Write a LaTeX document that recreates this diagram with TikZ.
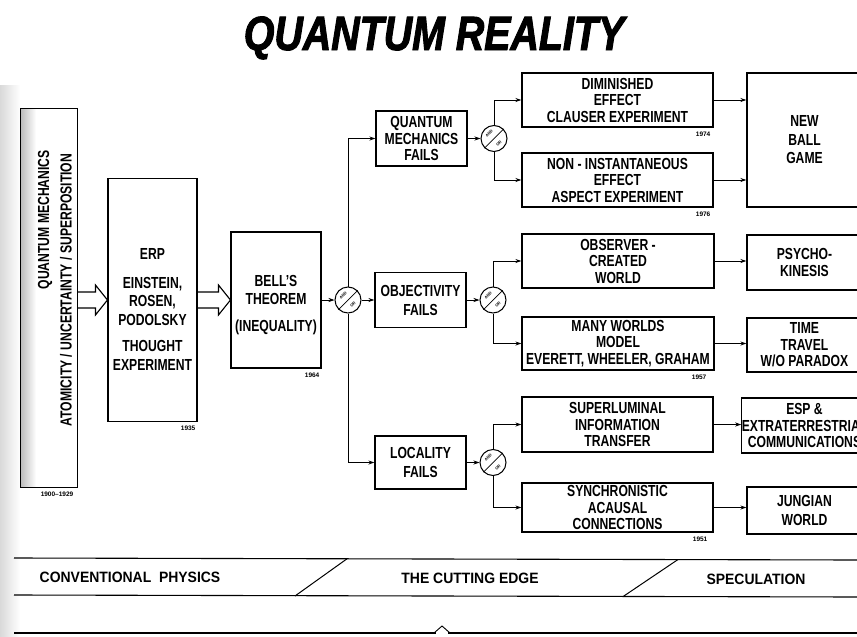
\documentclass[tikz,border=0pt]{standalone}
\usepackage{fontspec}
\setmainfont{Liberation Sans}
\newfontfamily\boxfont{Liberation Sans}[FakeStretch=0.76]
\newfontfamily\bandfont{Liberation Sans}[FakeStretch=0.93]
\newfontfamily\titlefont{Liberation Sans}[FakeStretch=0.82, BoldItalicFeatures={FakeBold=2}]
\usetikzlibrary{arrows.meta,calc}
\tikzset{
  qbox/.style={draw, line width=1.1pt, inner sep=0pt, align=center,
    font=\boxfont\bfseries\fontsize{16}{16.5}\selectfont},
  plaintext/.style={inner sep=0pt, align=center,
    font=\boxfont\bfseries\fontsize{16}{18.5}\selectfont},
  bartext/.style={inner sep=0pt, font=\boxfont\bfseries\fontsize{16}{16}\selectfont},
  bandtext/.style={inner sep=0pt, font=\bandfont\bfseries\fontsize{15}{15}\selectfont},
  yr/.style={anchor=north east, inner sep=0pt, font=\bfseries\fontsize{6.5}{6.5}\selectfont},
  conn/.style={line width=0.8pt, -{Stealth[length=6pt,width=4pt]}},
  hollow/.style={line width=1.1pt, line join=miter},
  andorc/.style={circle, draw, line width=1pt, minimum size=26pt, inner sep=0pt, fill=white},
  andt/.style={rotate=45, inner sep=0pt, font=\bfseries\fontsize{4}{4}\selectfont},
  andor/.pic={
    \node[andorc] (-c) {};
    \draw[line width=0.7pt] (-c.225) -- (-c.45);
    \node[andt] (-a) at ($(-c.center)+(-4.9pt,4.9pt)$) {AND};
    \node[andt] (-o) at ($(-c.center)+(4.9pt,-4.9pt)$) {OR};
  }
}
\begin{document}
\begin{tikzpicture}[x=1pt,y=-1pt]
\useasboundingbox (0,0) rectangle (857,637);
\fill[white] (0,0) rectangle (857,637);
% scan gutter shading
\shade[left color=gray!30, right color=white] (0,85) rectangle (20,637);
\shade[left color=gray!55, right color=white] (20,108) rectangle (36,487);

% title
\node[anchor=base, inner sep=0pt, font=\titlefont\bfseries\itshape\fontsize{48}{50}\selectfont] (title) at (434,50) {QUANTUM REALITY};

% left bar
\node[draw, line width=1pt, minimum width=57pt, minimum height=379pt, inner sep=0pt] (qm) at (48.5,297.5) {};
\node[bartext, rotate=90, anchor=east] (qmt1) at (45,150) {QUANTUM MECHANICS};
\node[bartext, rotate=90] (qmt2) at (66,290) {ATOMICITY / UNCERTAINTY / SUPERPOSITION};
\node[yr] (y0) at ($(qm.south east)+(-4,4)$) {1900–1929};

% ERP
\node[draw, line width=1.1pt, minimum width=89pt, minimum height=243pt, inner sep=0pt] (erp) at (152.5,300) {};
\node[plaintext] (erpt) at (152.5,309.5) {ERP\\[10pt]EINSTEIN,\\ROSEN,\\PODOLSKY\\[8pt]THOUGHT\\EXPERIMENT};
\node[yr] (y1) at ($(erp.south east)+(-2,4)$) {1935};

% Bell
\node[draw, line width=1.1pt, minimum width=90pt, minimum height=136pt, inner sep=0pt] (bell) at (276,300) {};
\node[plaintext] (bellt) at (276,305) {BELL’S\\THEOREM\\[8pt](INEQUALITY)};
\node[yr] (y2) at ($(bell.south east)+(-2,4)$) {1964};

% hollow arrows
\draw[hollow] ($(qm.east |- erp.west)+(0,-8)$) -- ($(erp.west)+(-12,-8)$) -- ($(erp.west)+(-12,-15)$)
  -- (erp.west) -- ($(erp.west)+(-12,15)$) -- ($(erp.west)+(-12,8)$) -- ($(qm.east |- erp.west)+(0,8)$);
\draw[hollow] ($(erp.east)+(0,-8)$) -- ($(bell.west)+(-12,-8)$) -- ($(bell.west)+(-12,-15)$)
  -- (bell.west) -- ($(bell.west)+(-12,15)$) -- ($(bell.west)+(-12,8)$) -- ($(erp.east)+(0,8)$);

% failure boxes
\node[qbox, minimum width=91pt, minimum height=55pt] (qmf) at (421.5,138.5) {QUANTUM\\MECHANICS\\FAILS};
\node[qbox, minimum width=91pt, minimum height=55pt] (obj) at (420.5,300) {OBJECTIVITY\\[2.5pt]FAILS};
\node[qbox, minimum width=91pt, minimum height=53pt] (loc) at (420.5,462.5) {LOCALITY\\[2.5pt]FAILS};

% and/or gates
\pic (c1) at (348,300) {andor};
\pic (c2) at (494,138.5) {andor};
\pic (c3) at (493,300) {andor};
\pic (c4) at (493,462.5) {andor};

% consequence boxes
\node[qbox, minimum width=191pt, minimum height=54pt] (dim) at (617.5,100) {DIMINISHED\\EFFECT\\CLAUSER EXPERIMENT};
\node[yr] (y3) at ($(dim.south east)+(-3,4)$) {1974};
\node[qbox, minimum width=191pt, minimum height=54pt] (non) at (617.5,180) {NON - INSTANTANEOUS\\EFFECT\\ASPECT EXPERIMENT};
\node[yr] (y4) at ($(non.south east)+(-3,4)$) {1976};
\node[qbox, minimum width=192pt, minimum height=54pt] (obs) at (618,261) {OBSERVER -\\CREATED\\WORLD};
\node[qbox, minimum width=192pt, minimum height=53pt] (many) at (618,343.5) {MANY WORLDS\\MODEL\\EVERETT, WHEELER, GRAHAM};
\node[yr] (y5) at ($(many.south east)+(-8,4)$) {1957};
\node[qbox, minimum width=191pt, minimum height=55pt] (sup) at (617.5,424.5) {SUPERLUMINAL\\INFORMATION\\TRANSFER};
\node[qbox, minimum width=191pt, minimum height=49pt] (syn) at (617.5,507.5) {SYNCHRONISTIC\\ACAUSAL\\CONNECTIONS};
\node[yr] (y6) at ($(syn.south east)+(-6,4)$) {1951};

% speculation boxes
\node[qbox, minimum width=115pt, minimum height=134pt] (nbg) at (804.5,140) {NEW\\[2pt]BALL\\[2pt]GAME};
\node[qbox, minimum width=115pt, minimum height=55pt] (psy) at (804.5,262.5) {PSYCHO-\\KINESIS};
\node[qbox, minimum width=115pt, minimum height=54pt] (tt) at (804.5,345) {TIME\\TRAVEL\\W/O PARADOX};
\node[qbox, minimum width=115pt, minimum height=55pt] (esp) at (804.5,425.5) {ESP \&\\EXTRATERRESTRIAL\\COMMUNICATIONS};
\node[qbox, minimum width=115pt, minimum height=47pt] (jun) at (804.5,510.5) {JUNGIAN\\[2pt]WORLD};

% connectors
\draw[conn] (bell.east) -- (c1-c.west);
\draw[conn] (c1-c.east) -- (obj.west);
\draw[conn] (c1-c.north) |- (qmf.west);
\draw[conn] (c1-c.south) |- (loc.west);
\draw[conn] (qmf.east) -- (c2-c.west);
\draw[conn] (obj.east) -- (c3-c.west);
\draw[conn] (loc.east) -- (c4-c.west);
\draw[conn] (c2-c.north) |- (dim.west);
\draw[conn] (c2-c.south) |- (non.west);
\draw[conn] (c3-c.north) |- (obs.west);
\draw[conn] (c3-c.south) |- (many.west);
\draw[conn] (c4-c.north) |- (sup.west);
\draw[conn] (c4-c.south) |- (syn.west);
\draw[conn] (dim.east) -- (dim.east -| nbg.west);
\draw[conn] (non.east) -- (non.east -| nbg.west);
\draw[conn] (obs.east) -- (obs.east -| psy.west);
\draw[conn] (many.east) -- (many.east -| tt.west);
\draw[conn] (sup.east) -- (sup.east -| esp.west);
\draw[conn] (syn.east) -- (syn.east -| jun.west);

% bottom band
\draw[line width=1.1pt] (14,558) -- (857,560);
\draw[line width=1.1pt] (14,595) -- (857,597);
\draw[line width=1pt] (295,596) -- (347,558.8);
\draw[line width=1pt] (623,596.6) -- (678,559.5);
\node[bandtext] (b1) at (130,577) {CONVENTIONAL\ \ PHYSICS};
\node[bandtext] (b2) at (470,578) {THE CUTTING EDGE};
\node[bandtext] (b3) at (756,579) {SPECULATION};
\draw[line width=2.6pt] (14,633) -- (436,633);
\draw[line width=2.6pt] (448,633) -- (857,633);
\draw[line width=0.9pt] (434,633) -- (442,626) -- (450,633);
\end{tikzpicture}
\end{document}
